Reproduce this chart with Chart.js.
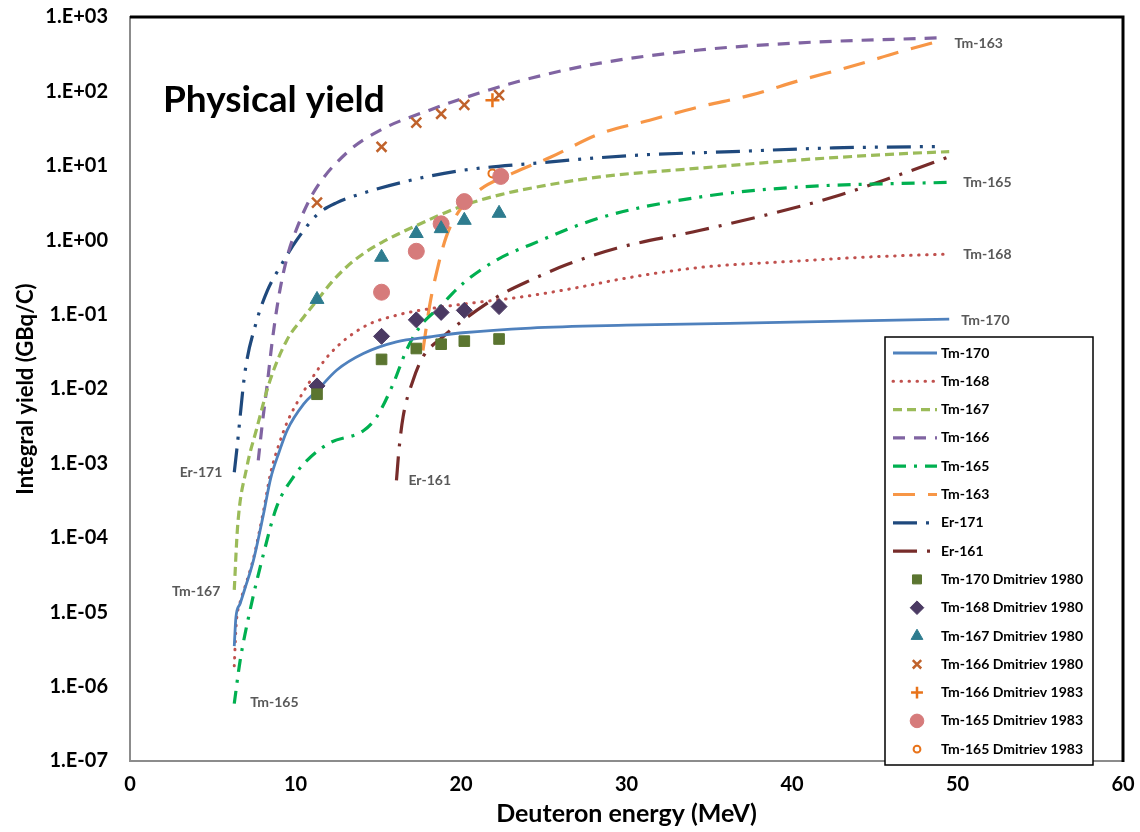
<!DOCTYPE html>
<html>
<head>
<meta charset="utf-8">
<script src="https://cdn.jsdelivr.net/npm/chart.js"></script>
<style>
  body { margin: 0; background: #fff; }
  #wrap { width: 1140px; height: 832px; }
</style>
</head>
<body>
<div id="wrap"><canvas id="yieldChart" width="1140" height="832"></canvas></div>
<script>
// calculated yields, energy in MeV, yield in GBq/C
const eTm170 = [6.3, 6.4, 6.65, 6.95, 7.45, 8.05, 8.5, 9.0, 9.5, 10.5, 11.3, 12.5, 14.1, 16.1, 18.1, 20.1, 24.2, 30, 40, 49.5];
const yTm170 = [3.5e-6, 8.5e-6, 1.3e-5, 2.1e-5, 4.9e-5, 2.0e-4, 6.3e-4, 1.4e-3, 2.8e-3, 6.3e-3, 9.5e-3, 0.018, 0.030, 0.043, 0.050, 0.057, 0.066, 0.072, 0.079, 0.087];

const eTm168 = [6.3, 6.42, 6.65, 6.95, 7.45, 8.05, 8.5, 9.0, 9.5, 10.0, 11.0, 12.1, 14.1, 16.1, 18.1, 20.1, 24.2, 27, 30, 34.4, 40, 45, 49.5];
const yTm168 = [1.9e-6, 7e-6, 1.35e-5, 2.2e-5, 5.2e-5, 2.2e-4, 7.5e-4, 1.8e-3, 3.6e-3, 6.0e-3, 0.014, 0.030, 0.068, 0.098, 0.12, 0.138, 0.18, 0.23, 0.31, 0.43, 0.52, 0.60, 0.65];

const eTm167 = [6.3, 6.5, 7.05, 7.65, 8.46, 9.47, 10.5, 11.3, 12.2, 13.1, 14.1, 15.2, 17.1, 20.1, 22.4, 24.2, 28.4, 34.4, 40.5, 46.5, 49.5];
const yTm167 = [2.0e-5, 1.4e-4, 8.7e-4, 2.9e-3, 0.013, 0.045, 0.093, 0.155, 0.275, 0.44, 0.66, 0.93, 1.5, 2.9, 4.1, 5.0, 7.1, 9.3, 12, 14.5, 15.5];

const eTm166 = [7.75, 8.0, 8.3, 8.6, 9.0, 9.5, 10.0, 11.07, 13.1, 15.1, 18.1, 21.1, 24.2, 28.4, 34.4, 40.5, 48.9];
const yTm166 = [1.1e-3, 3.5e-3, 0.012, 0.045, 0.18, 0.6, 1.3, 4.3, 15, 30, 56, 95, 150, 240, 360, 450, 525];

const eTm165 = [6.3, 6.65, 7.25, 8.06, 8.86, 9.86, 10.7, 12.1, 14.1, 14.9, 15.9, 16.7, 17.5, 18.7, 20.1, 22.2, 24.2, 28.4, 34.4, 40.5, 49.5];
const yTm165 = [5.9e-7, 2.2e-6, 1.05e-5, 6e-5, 2.6e-4, 6.5e-4, 1.1e-3, 1.9e-3, 2.75e-3, 4.2e-3, 0.0117, 0.033, 0.068, 0.126, 0.26, 0.55, 0.87, 2.0, 3.8, 5.2, 6.0];

const eTm163 = [17.7, 18.1, 18.5, 19.1, 19.9, 21.1, 23.1, 25.4, 28.4, 31.4, 34.4, 37.5, 40.5, 43.5, 46.5, 49.1];
const yTm163 = [0.033, 0.13, 0.35, 1.1, 2.5, 4.7, 7.9, 13, 27, 41, 62, 89, 141, 214, 339, 490];

const eEr171 = [6.3, 6.45, 6.95, 7.6, 8.3, 9.1, 10.07, 11.3, 12.5, 14.1, 17.1, 20.1, 24.2, 30.4, 36.4, 42.5, 49.1];
const yEr171 = [7.6e-4, 1.5e-3, 0.017, 0.075, 0.21, 0.45, 1.0, 2.2, 3.2, 4.3, 6.5, 8.7, 10.7, 13.8, 15.5, 17.4, 18.2];

const eEr161 = [16.1, 16.25, 16.5, 17.1, 17.7, 18.9, 20.1, 22.2, 24.2, 26.4, 29.4, 34.4, 38.5, 42.5, 46.5, 49.5];
const yEr161 = [5.9e-4, 1.5e-3, 4.2e-3, 0.013, 0.027, 0.05, 0.083, 0.174, 0.29, 0.47, 0.78, 1.35, 2.2, 3.8, 7.6, 13.2];

// measured points (Dmitriev)
const eDm1980 = [11.3, 15.2, 17.3, 18.8, 20.2, 22.3];
const yTm170Dm1980 = [0.0085, 0.025, 0.035, 0.040, 0.044, 0.047];
const yTm168Dm1980 = [0.011, 0.051, 0.085, 0.107, 0.114, 0.128];
const yTm167Dm1980 = [0.16, 0.59, 1.23, 1.43, 1.85, 2.3];
const yTm166Dm1980 = [3.2, 18, 38, 50, 66, 89];
const eTm166Dm1983 = [21.9];
const yTm166Dm1983 = [76];
const eTm165Dm1983 = [15.2, 17.3, 18.8, 20.2, 22.4];
const yTm165Dm1983 = [0.2, 0.71, 1.66, 3.3, 7.2];
const eTm165Dm1983b = [21.9];
const yTm165Dm1983b = [7.9];

const xTicks = [0, 10, 20, 30, 40, 50, 60];
const yTicks = [1e-7, 1e-6, 1e-5, 1e-4, 1e-3, 1e-2, 1e-1, 1e0, 1e1, 1e2, 1e3];

const FONT = "Lato, 'Open Sans', sans-serif";

function pts(xs, ys) {
  return xs.map((x, i) => ({ x: x, y: ys[i] }));
}

function curve(label, xs, ys, color, dash, width) {
  return {
    label: label,
    data: pts(xs, ys),
    showLine: true,
    borderColor: color,
    backgroundColor: color,
    borderWidth: width,
    borderDash: dash,
    borderCapStyle: dash.length && dash[0] < 2 ? "round" : "butt",
    cubicInterpolationMode: "monotone",
    pointRadius: 0,
    pointHoverRadius: 0,
    order: 2,
  };
}

function markers(label, xs, ys, style, fill, stroke, radius, bw) {
  return {
    label: label,
    data: pts(xs, ys),
    showLine: false,
    pointStyle: style,
    pointRadius: radius,
    pointHoverRadius: radius,
    backgroundColor: fill,
    borderColor: stroke,
    pointBackgroundColor: fill,
    pointBorderColor: stroke,
    pointBorderWidth: bw,
    borderWidth: bw,
    order: 1,
  };
}

const datasets = [
  curve("Tm-170", eTm170, yTm170, "#4F81BD", [], 2.8),
  curve("Tm-168", eTm168, yTm168, "#C0504D", [0.5, 7.5], 3),
  curve("Tm-167", eTm167, yTm167, "#9BBB59", [9, 5], 3.2),
  curve("Tm-166", eTm166, yTm166, "#8064A2", [12, 9], 3.2),
  curve("Tm-165", eTm165, yTm165, "#00B050", [13, 8, 3, 8], 3.2),
  curve("Tm-163", eTm163, yTm163, "#F79646", [22, 13], 3.2),
  curve("Er-171", eEr171, yEr171, "#1F497D", [24, 9, 3, 9, 3, 9], 3.2),
  curve("Er-161", eEr161, yEr161, "#772C2A", [24, 10, 3, 10], 3.2),
  markers("Tm-170 Dmitriev 1980", eDm1980, yTm170Dm1980, "rect", "#5B7530", "#5B7530", 7.5, 1),
  markers("Tm-168 Dmitriev 1980", eDm1980, yTm168Dm1980, "rectRot", "#4B3A63", "#4B3A63", 8, 1),
  markers("Tm-167 Dmitriev 1980", eDm1980, yTm167Dm1980, "triangle", "#2E7C8F", "#2E7C8F", 8, 1),
  markers("Tm-166 Dmitriev 1980", eDm1980, yTm166Dm1980, "crossRot", "#C0622B", "#C0622B", 7, 2.5),
  markers("Tm-166 Dmitriev 1983", eTm166Dm1983, yTm166Dm1983, "cross", "#E8731A", "#E8731A", 7, 2.5),
  markers("Tm-165 Dmitriev 1983", eTm165Dm1983, yTm165Dm1983, "circle", "#D67B7B", "#D67B7B", 8, 1),
  markers("Tm-165 Dmitriev 1983", eTm165Dm1983b, yTm165Dm1983b, "circle", "#ffffff", "#E8731A", 4, 2),
];

// curve name tags beside the start or end of a curve
const curveTags = [
  { text: "Tm-163", ds: 5, at: "last", dx: 12, dy: 3, align: "left" },
  { text: "Tm-165", ds: 4, at: "last", dx: 14, dy: 0, align: "left" },
  { text: "Tm-168", ds: 1, at: "last", dx: 14, dy: 0, align: "left" },
  { text: "Tm-170", ds: 0, at: "last", dx: 12, dy: 1, align: "left" },
  { text: "Er-171", ds: 6, at: "first", dx: -12, dy: 0, align: "right" },
  { text: "Tm-167", ds: 2, at: "first", dx: -14, dy: 2, align: "right" },
  { text: "Tm-165", ds: 4, at: "first", dx: 16, dy: -1, align: "left" },
  { text: "Er-161", ds: 7, at: "first", dx: 12, dy: 0, align: "left" },
];

function expLabel(v) {
  const p = Math.round(Math.log10(v));
  const s = p < 0 ? "-" : "+";
  const a = Math.abs(p);
  return "1.E" + s + (a < 10 ? "0" + a : a);
}

const extras = {
  id: "extras",
  afterDraw(chart) {
    const ctx = chart.ctx;
    const area = chart.chartArea;
    ctx.save();

    // top and right frame
    ctx.strokeStyle = "#000";
    ctx.lineWidth = 3;
    ctx.beginPath();
    ctx.moveTo(area.left, area.top);
    ctx.lineTo(area.right, area.top);
    ctx.lineTo(area.right, area.bottom + 1);
    ctx.stroke();

    // big title inside the plot
    ctx.fillStyle = "#000";
    ctx.font = "bold 37px " + FONT;
    ctx.textAlign = "left";
    ctx.textBaseline = "alphabetic";
    ctx.fillText("Physical yield", area.left + 33, area.top + 95);

    // curve tags
    ctx.font = "bold 14px " + FONT;
    ctx.fillStyle = "#595959";
    ctx.textBaseline = "middle";
    curveTags.forEach((t) => {
      const meta = chart.getDatasetMeta(t.ds);
      const el = t.at === "last" ? meta.data[meta.data.length - 1] : meta.data[0];
      ctx.textAlign = t.align;
      ctx.fillText(t.text, el.x + t.dx, el.y + t.dy);
    });

    // legend box
    const bx = area.right - 238, by = area.top + 320, bw = 208, bh = 428;
    ctx.fillStyle = "#fff";
    ctx.fillRect(bx, by, bw, bh);
    ctx.strokeStyle = "#000";
    ctx.lineWidth = 1.5;
    ctx.strokeRect(bx, by, bw, bh);

    ctx.font = "bold 14px " + FONT;
    ctx.textAlign = "left";
    ctx.textBaseline = "middle";
    chart.data.datasets.forEach((ds, i) => {
      const y = by + 16 + i * 28.3;
      if (ds.showLine) {
        ctx.save();
        ctx.strokeStyle = ds.borderColor;
        ctx.lineWidth = ds.borderWidth;
        ctx.setLineDash(ds.borderDash);
        ctx.lineCap = ds.borderCapStyle;
        ctx.beginPath();
        ctx.moveTo(bx + 8, y);
        ctx.lineTo(bx + 52, y);
        ctx.stroke();
        ctx.restore();
      } else {
        ctx.save();
        ctx.fillStyle = ds.pointBackgroundColor;
        ctx.strokeStyle = ds.pointBorderColor;
        ctx.lineWidth = ds.pointBorderWidth;
        Chart.helpers.drawPoint(ctx, {
          pointStyle: ds.pointStyle,
          radius: ds.pointRadius * 0.85,
          rotation: 0,
          borderWidth: ds.pointBorderWidth,
        }, bx + 32, y);
        ctx.restore();
      }
      ctx.fillStyle = "#000";
      ctx.fillText(ds.label, bx + 56, y);
    });

    ctx.restore();
  },
};

new Chart(document.getElementById("yieldChart"), {
  type: "scatter",
  data: { datasets: datasets },
  options: {
    responsive: false,
    animation: false,
    layout: { padding: { top: 17, right: 17, left: 0, bottom: 0 } },
    plugins: {
      legend: { display: false },
      tooltip: { enabled: false },
    },
    scales: {
      x: {
        type: "linear",
        min: 0,
        max: 60,
        afterBuildTicks: (scale) => {
          scale.ticks = xTicks.map((v) => ({ value: v }));
        },
        afterFit: (scale) => {
          scale.height = 71;
          scale.paddingLeft = 10;
          scale.paddingRight = 10;
        },
        grid: { display: false, drawTicks: false },
        border: { color: "#8c8c8c", width: 2 },
        ticks: {
          color: "#000",
          padding: 12,
          font: { family: FONT, size: 20, weight: "bold" },
        },
        title: {
          display: true,
          text: "Deuteron energy (MeV)",
          color: "#000",
          padding: { top: 0, bottom: 3 },
          font: { family: FONT, size: 25, weight: "bold" },
        },
      },
      y: {
        type: "logarithmic",
        min: 1e-7,
        max: 1e3,
        afterBuildTicks: (scale) => {
          scale.ticks = yTicks.map((v) => ({ value: v }));
        },
        afterFit: (scale) => {
          scale.width = 130;
          scale.paddingTop = 12;
          scale.paddingBottom = 12;
        },
        grid: { display: false, drawTicks: false },
        border: { color: "#8c8c8c", width: 2 },
        ticks: {
          color: "#000",
          padding: 22,
          font: { family: FONT, size: 20, weight: "bold" },
          callback: (v) => expLabel(v),
        },
        title: {
          display: true,
          text: "Integral yield (GBq/C)",
          color: "#000",
          padding: { top: 13, bottom: 0 },
          font: { family: FONT, size: 22, weight: "bold" },
        },
      },
    },
  },
  plugins: [extras],
});
</script>
</body>
</html>
